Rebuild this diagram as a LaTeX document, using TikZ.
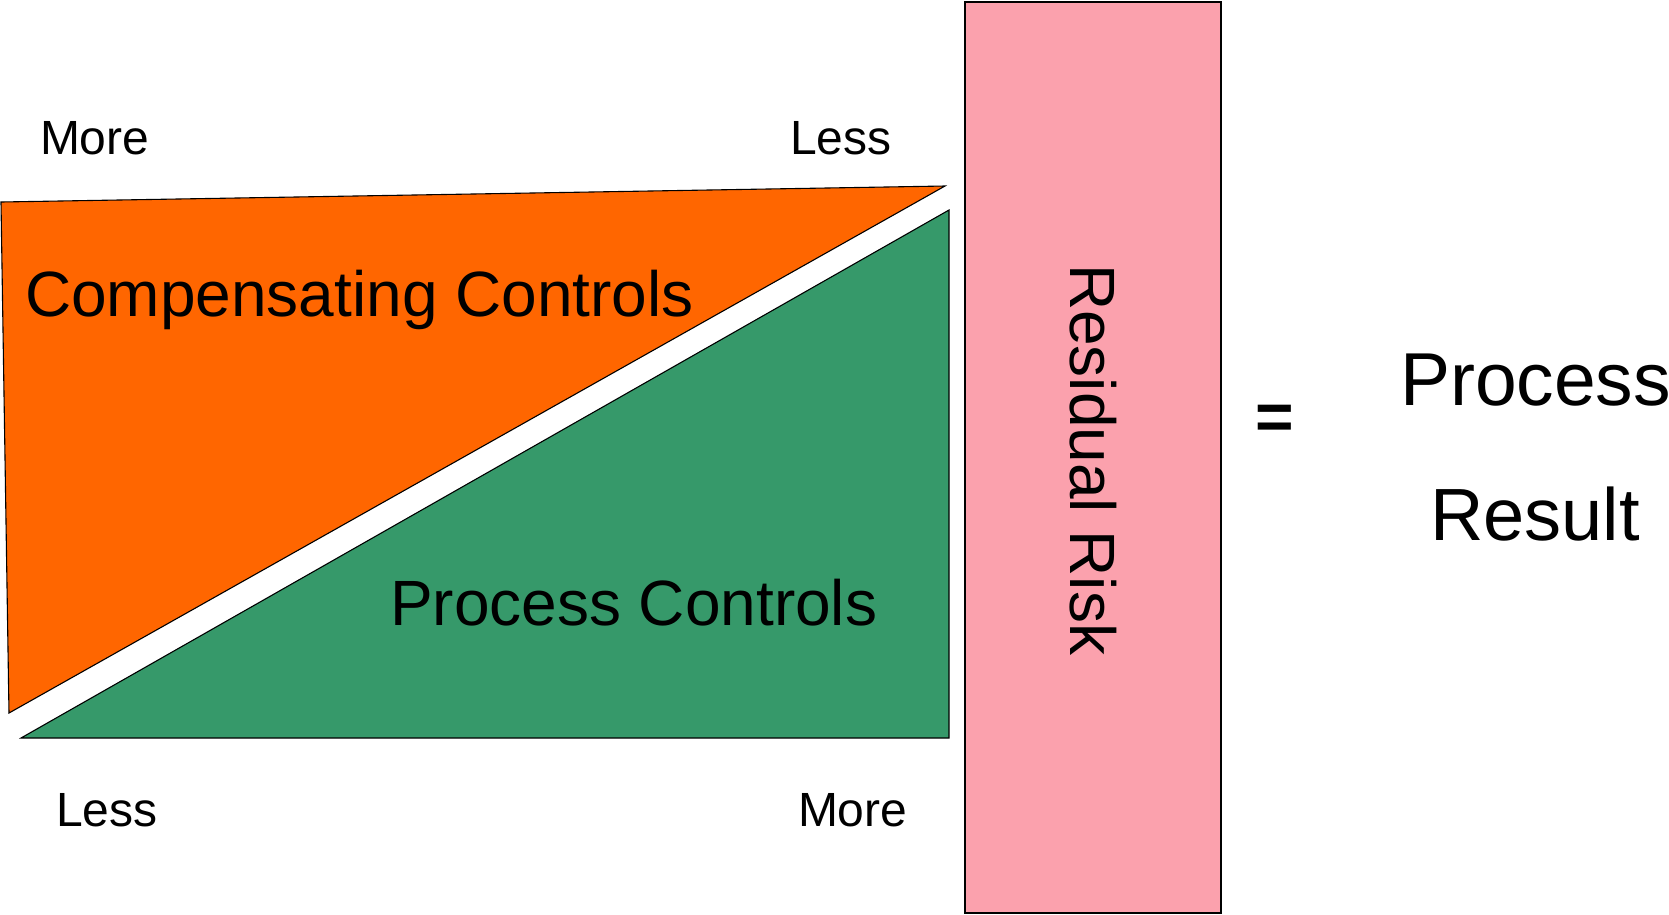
\documentclass[tikz,border=0pt]{standalone}
\usepackage{fontspec}
\setmainfont{Liberation Sans}
\definecolor{compOrange}{RGB}{255,102,0}
\definecolor{procGreen}{RGB}{54,153,106}
\definecolor{riskPink}{RGB}{251,161,173}
\newcommand{\fsz}[1]{\fontsize{#1}{#1}\selectfont}
\tikzset{
  lbl/.style={anchor=base west, inner sep=0pt, outer sep=0pt, text=black},
  shapeline/.style={draw=black, line width=1.1pt, line join=miter},
}
\begin{document}
\begin{tikzpicture}[x=1pt,y=-1pt]
\useasboundingbox (0,0) rectangle (1669,914);
% orange triangle
\draw[shapeline, fill=compOrange] (1,202) -- (945,186) -- (9,713) -- cycle;
% green triangle
\draw[shapeline, fill=procGreen] (21,738) -- (949,210) -- (949,738) -- cycle;
% pink rectangle
\draw[draw=black, line width=2pt, fill=riskPink] (965,2) rectangle (1221,913);
% labels
\node[lbl] (moreTop) at (40,154) {\fsz{48}More};
\node[lbl] (lessTop) at (790,154) {\fsz{48}Less};
\node[lbl] (lessBot) at (56,826) {\fsz{48}Less};
\node[lbl] (moreBot) at (798,826) {\fsz{48}More};
\node[lbl] (comp) at (25,316) {\fsz{64}Compensating Controls};
\node[lbl] (proc) at (390,625) {\fsz{64}Process Controls};
\node[lbl, rotate=-90] (risk) at (1070,264) {\fsz{64}Residual Risk};
\node[inner sep=0pt] (eq) at (1275,422) {\fsz{66}\bfseries =};
\node[lbl] (pr1) at (1400,405) {\fsz{75}Process};
\node[lbl] (pr2) at (1430,540) {\fsz{74}Result};
\end{tikzpicture}
\end{document}
